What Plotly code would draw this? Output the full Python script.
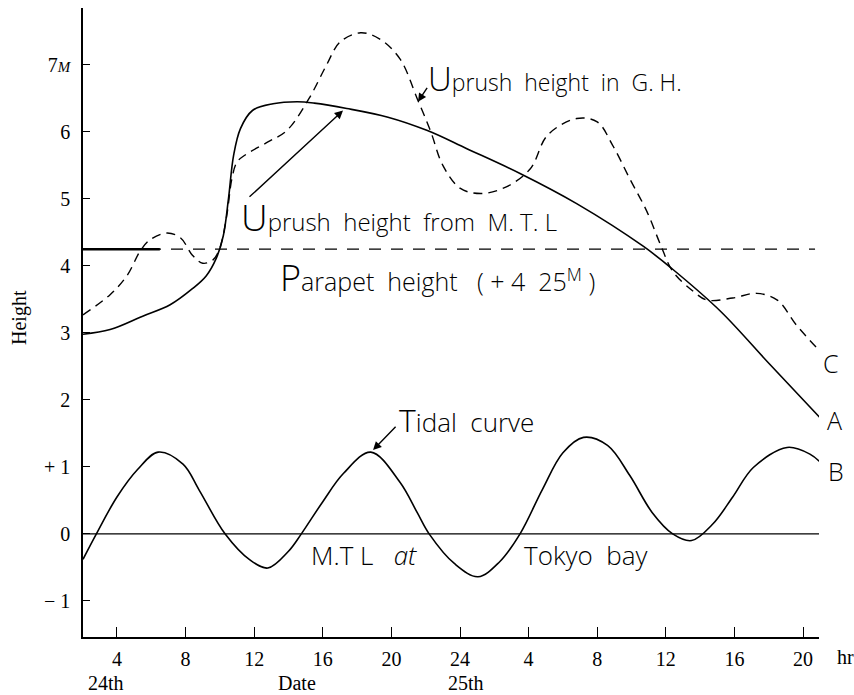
import plotly.graph_objects as go

# ---- data (hours counted from 0 h on the 24th) ----
x_tickvals = [4, 8, 12, 16, 20, 24, 28, 32, 36, 40, 44]
x_ticktext = ["4", "8", "12", "16", "20", "24", "4", "8", "12", "16", "20"]
y_tickvals = [-1, 0, 1, 2, 3, 4, 5, 6, 7]
y_ticktext = ["\u2212 1", "0", "+ 1", "2", "3", "4", "5", "6",
              "7<i><span style='font-size:15px'>M</span></i>"]

# Curve A : uprush height from M.T.L (solid)
A_h = [2.02, 3.6, 5.5, 7.1, 8.4, 9.2, 9.8, 10.2, 10.5, 10.8, 11.2, 11.9, 13.1, 14.5,
       15.5, 17.4, 19.8, 22.1, 24.4, 27.5, 30.8, 34.7, 36.4, 39.2, 42.1, 45.0]
A_v = [2.98, 3.05, 3.25, 3.42, 3.66, 3.85, 4.12, 4.45, 5.0, 5.65, 6.05, 6.32, 6.42, 6.45,
       6.43, 6.35, 6.22, 6.02, 5.75, 5.38, 4.93, 4.29, 3.95, 3.32, 2.52, 1.73]

# Curve C : uprush height in G.H. (dashed)
C_h = [2.02, 3.6, 4.6, 5.35, 5.93, 6.9, 7.7, 8.4, 9.0, 9.6, 10.0, 10.4, 10.7, 11.0, 11.5,
       12.8, 13.9, 15.2, 16.2, 17.0, 18.2, 19.3, 20.5, 21.5, 22.3, 23.0, 24.0, 25.2, 26.7,
       28.1, 29.1, 30.8, 32.0, 32.9, 33.9, 34.9, 35.7, 36.4, 37.6, 38.4, 39.9, 41.3, 42.5,
       43.6, 44.9]
C_v = [3.27, 3.57, 3.86, 4.22, 4.39, 4.49, 4.42, 4.16, 4.04, 4.09, 4.27, 4.75, 5.3, 5.55, 5.66,
       5.85, 6.02, 6.5, 6.99, 7.34, 7.48, 7.39, 7.09, 6.5, 6.0, 5.5, 5.16, 5.08, 5.18,
       5.45, 5.95, 6.2, 6.15, 5.8, 5.3, 4.81, 4.31, 3.92, 3.62, 3.49, 3.52, 3.59, 3.49,
       3.12, 2.75]

# Curve B : tidal curve
B_h = [2.02, 2.8, 4.0, 5.2, 6.4, 7.85, 8.8, 10.3, 11.75, 12.8, 14.0, 14.75, 16.0, 17.2,
       18.8, 20.5, 21.5, 22.2, 23.7, 25.05, 26.3, 27.5, 28.8, 30.0, 31.2, 32.6, 33.9,
       35.2, 36.4, 37.5, 38.75, 39.9, 41.1, 43.07, 44.4, 45.2]
B_v = [-0.38, 0.0, 0.55, 0.96, 1.22, 1.04, 0.65, 0.0, -0.39, -0.51, -0.26, 0.0, 0.48, 0.9,
       1.22, 0.77, 0.32, 0.0, -0.45, -0.64, -0.42, 0.0, 0.66, 1.21, 1.44, 1.32, 0.87,
       0.32, 0.0, -0.1, 0.15, 0.55, 0.99, 1.29, 1.19, 1.02]

parapet_level = 4.25
parapet_h = [2.02, 44.7]
parapet_solid_h = [2.02, 6.5]
mtl_h = [2.02, 45.2]
mtl_v = [0, 0]

hand = "Open Sans"
serif = "Liberation Serif"

fig = go.Figure()
fig.add_trace(go.Scatter(x=mtl_h, y=mtl_v, mode="lines",
                         line=dict(color="black", width=1.3)))
fig.add_trace(go.Scatter(x=parapet_h, y=[parapet_level] * 2, mode="lines",
                         line=dict(color="black", width=1.4, dash="12px,10px")))
fig.add_trace(go.Scatter(x=parapet_solid_h, y=[parapet_level] * 2, mode="lines",
                         line=dict(color="black", width=2.5)))
fig.add_trace(go.Scatter(x=A_h, y=A_v, mode="lines", line_shape="spline",
                         line=dict(color="black", width=1.6)))
fig.add_trace(go.Scatter(x=C_h, y=C_v, mode="lines", line_shape="spline",
                         line=dict(color="black", width=1.4, dash="9px,6px")))
fig.add_trace(go.Scatter(x=B_h, y=B_v, mode="lines", line_shape="spline",
                         line=dict(color="black", width=1.6)))

ann = []
def txt(x, y, s, size=20):
    ann.append(dict(x=x, y=y, xref="x", yref="y", text=s, showarrow=False,
                    xanchor="left", yanchor="middle",
                    font=dict(family=hand, size=size, color="black", weight=300)))

def arrow(hx, hy, tx, ty):
    ann.append(dict(x=hx, y=hy, ax=tx, ay=ty, xref="x", yref="y", axref="x", ayref="y",
                    text="", showarrow=True, arrowhead=2, arrowsize=1.2, arrowwidth=1.4,
                    arrowcolor="black"))

def big(ch, px):
    return "<span style='font-size:%dpx'>%s</span>" % (px, ch)

txt(22.0, 6.8, big("U", 33) + "prush  height  in  G. H.", 23)
txt(11.1, 4.74, big("U", 37) + "prush  height  from  M. T. L", 24)
txt(13.4, 3.82, big("P", 36) + "arapet  height   ( + 4  25<sup>M</sup> )", 25)
txt(20.3, 1.71, big("T", 32) + "idal  curve", 26)
txt(15.2, -0.32, "M.T L   <i>at</i>", 26)
txt(27.6, -0.32, "Tokyo  bay", 26)

arrow(17.18, 6.32, 11.64, 5.01)
arrow(21.55, 6.45, 22.14, 6.68)
arrow(18.93, 1.25, 20.33, 1.62)

W, H = 854, 695
L, R, T, B = 83, 35, 8, 58
pw, ph = W - L - R, H - T - B

def ptxt(px, py, s, size=20, angle=0, font=serif, weight=400):
    ann.append(dict(x=(px - L) / pw, y=(H - B - py) / ph, xref="paper", yref="paper",
                    text=s, showarrow=False, xanchor="center", yanchor="middle",
                    textangle=angle,
                    font=dict(family=font, size=size, color="black", weight=weight)))

ptxt(845, 657, "hr", 20)
ptxt(106, 683, "24th", 20)
ptxt(297, 683, "Date", 20)
ptxt(466, 683, "25th", 20)
ptxt(19, 318, "Height", 20, -90)
ptxt(834, 420, "A", 25, font=hand, weight=300)
ptxt(836, 471, "B", 25, font=hand, weight=300)
ptxt(831, 363, "C", 25, font=hand, weight=300)

fig.update_layout(
    width=W, height=H,
    margin=dict(l=L, r=R, t=T, b=B),
    paper_bgcolor="white", plot_bgcolor="white",
    showlegend=False,
    annotations=ann,
    xaxis=dict(range=[2.02, 44.93], tickvals=x_tickvals, ticktext=x_ticktext,
               showgrid=False, zeroline=False, showline=True, linecolor="black",
               linewidth=1.6, ticks="inside", ticklen=10, tickwidth=1.3, tickcolor="black",
               ticklabelstandoff=3,
               tickfont=dict(family=serif, size=20, color="black")),
    yaxis=dict(range=[-1.54, 7.85], tickvals=y_tickvals, ticktext=y_ticktext,
               showgrid=False, zeroline=False, showline=True, linecolor="black",
               linewidth=1.6, ticks="inside", ticklen=7, tickwidth=1.3, tickcolor="black",
               ticklabelstandoff=7,
               tickfont=dict(family=serif, size=20, color="black")),
)

fig.write_html("out.html")
